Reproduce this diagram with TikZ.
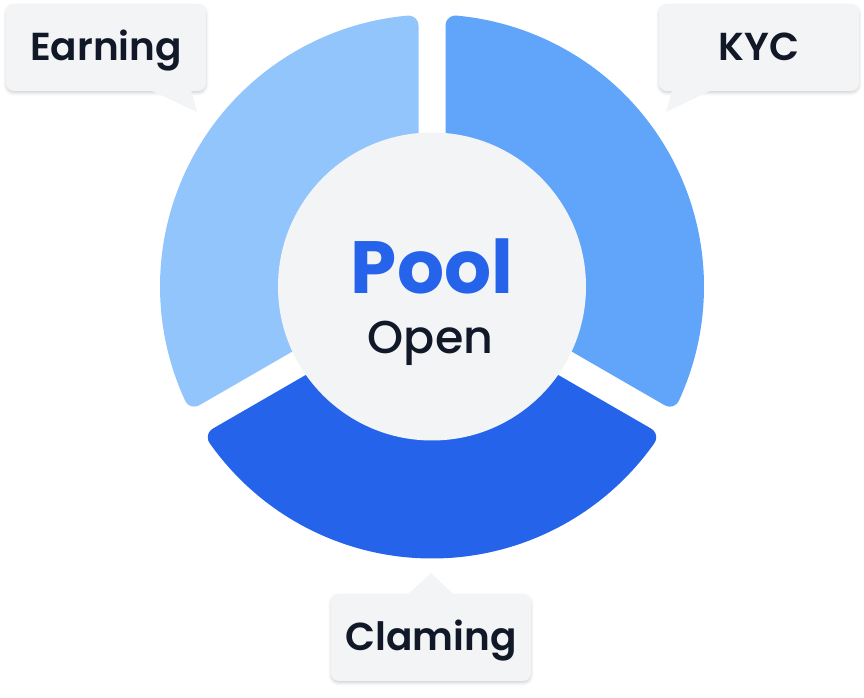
\documentclass[tikz,border=0pt]{standalone}
\usepackage{fontspec}
\setmainfont{Poppins}[UprightFont=* SemiBold, BoldFont=* Bold]
\newfontfamily\popmed{Poppins}[UprightFont=* Medium]
\usetikzlibrary{calc,shadows.blur}
\definecolor{segA}{HTML}{93C5FD}
\definecolor{segB}{HTML}{60A5FA}
\definecolor{segC}{HTML}{2563EB}
\definecolor{hub}{HTML}{F3F4F6}
\definecolor{ink}{HTML}{111827}
\definecolor{poolblue}{HTML}{2563EB}
\newcommand{\ringseg}[3]{%
  \fill[#1] ($(C)+({(#2+#3)/2}:15.59)$) -- ($(C)+({#2+2.962}:261.29)$)
    arc[start angle={#2-90}, end angle={#2+5.146}, radius=10]
    arc[start angle={#2+5.146}, end angle={#3-5.146}, radius=272]
    arc[start angle={#3-5.146}, end angle={#3+90}, radius=10] -- cycle;}
\begin{document}
\begin{tikzpicture}[x=1pt,y=1pt,
  callout/.style={fill=hub, rounded corners=8, minimum width=200, minimum height=87,
    inner sep=0pt, text=ink, font=\fontsize{39}{42}\selectfont,
    text height=27, text depth=0,
    blur shadow={shadow xshift=0pt, shadow yshift=-2pt, shadow blur radius=3pt, shadow opacity=18}},
  pointer/.style={fill=hub}]
\useasboundingbox (0,0) rectangle (864,698);
\coordinate (C) at (432,411.5);
\ringseg{segB}{-30}{90}
\ringseg{segA}{90}{210}
\ringseg{segC}{210}{330}
\node[circle, fill=hub, minimum size=308, inner sep=0pt] (hubc) at (C) {};
\node[anchor=base, text=poolblue, font=\fontsize{74}{80}\selectfont\bfseries] (pool) at (432,404) {Pool};
\node[anchor=base, text=ink, font=\popmed\fontsize{46}{50}\selectfont] (open) at (430.5,344) {Open};
% callouts
\node[callout] (earn) at (106,650.5) {Earning};
\coordinate (earntip) at (197,586);
\fill[pointer] (150,608) -- (earntip) -- (191,608) -- cycle;
\node[callout] (kyc) at (759,650.5) {KYC};
\coordinate (kyctip) at (666,586);
\fill[pointer] (672,608) -- (kyctip) -- (712,608) -- cycle;
\node[callout] (clam) at (431,60.5) {Claming};
\coordinate (clamtip) at (431,125);
\fill[pointer] (408,104) -- (clamtip) -- (453,104) -- cycle;
\end{tikzpicture}
\end{document}
